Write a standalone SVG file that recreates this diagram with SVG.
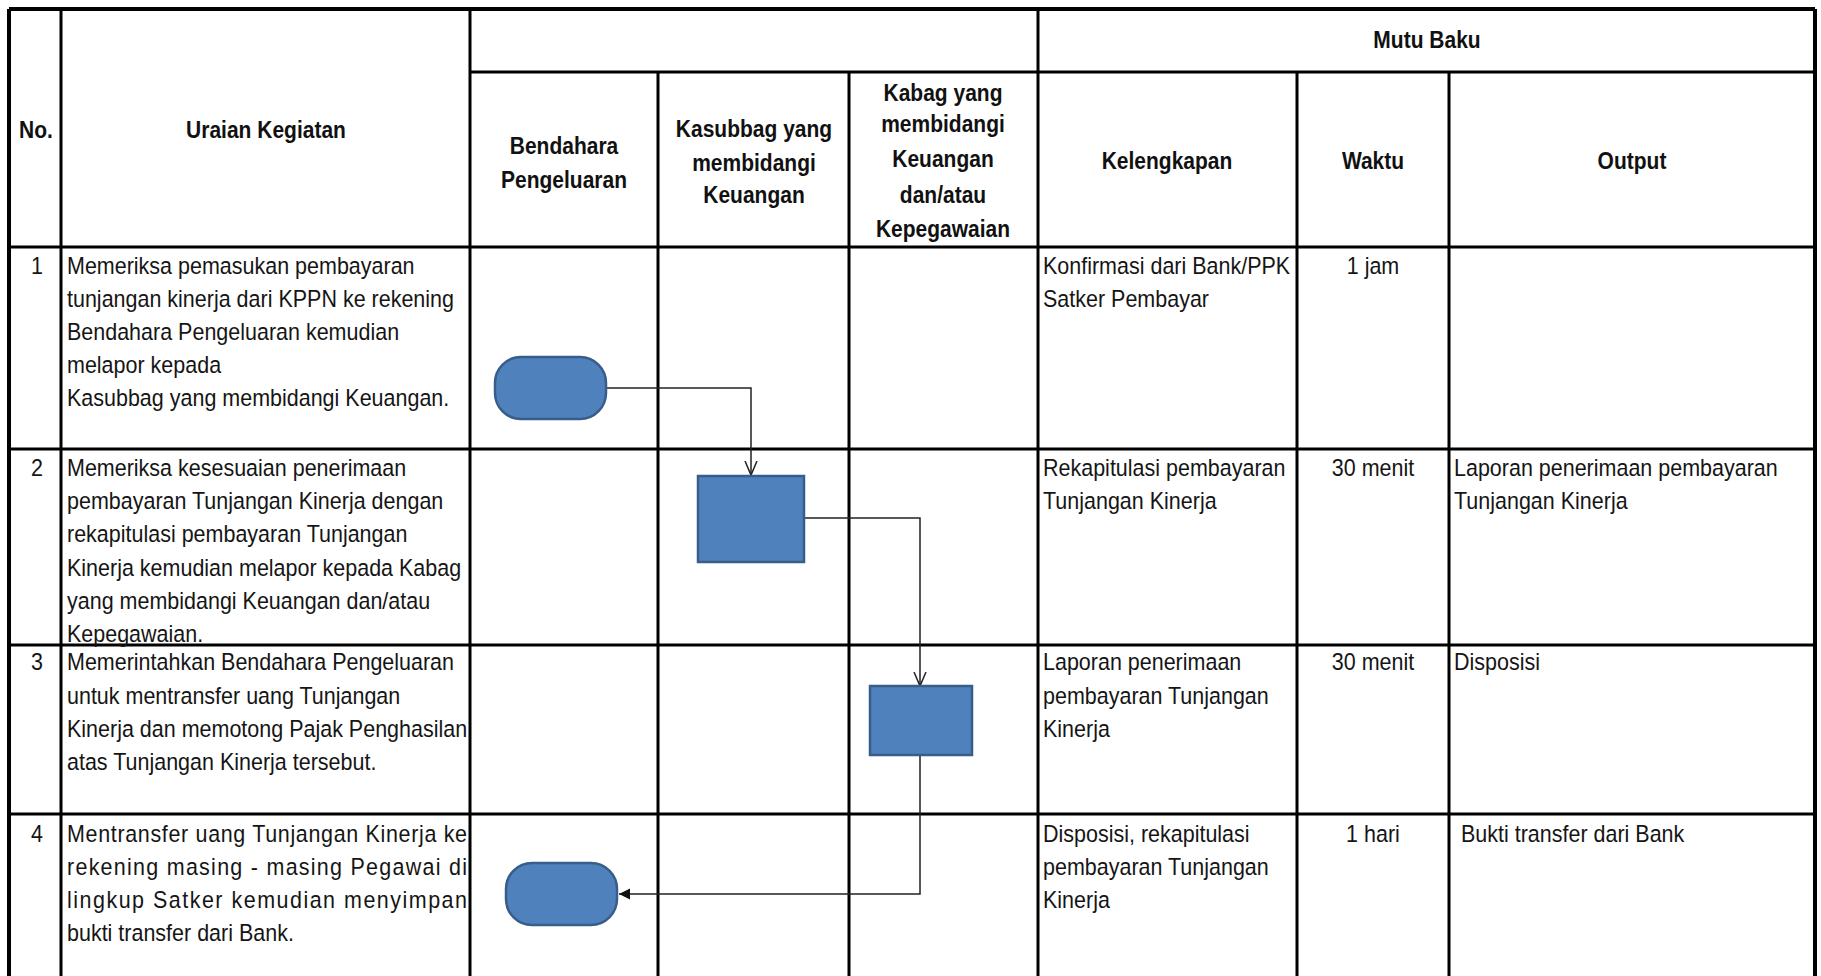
<svg xmlns="http://www.w3.org/2000/svg" width="1821" height="976" viewBox="0 0 1821 976">
<style>
  .grid { stroke: #000; stroke-width: 3; fill: none; }
  .border { stroke: #000; stroke-width: 4; fill: none; }
  .t { font-family: "Liberation Sans", Arial, sans-serif; font-size: 21.5px; fill: #151515; }
  .h { font-family: "Liberation Sans", Arial, sans-serif; font-size: 21px; font-weight: bold; fill: #111; }
  .c { text-anchor: middle; }
  .shape { fill: #4F81BD; stroke: #385D8A; stroke-width: 2.5; }
  .conn { fill: none; stroke: #222; stroke-width: 1.5; }
</style>
<defs>
  <marker id="open" markerWidth="20" markerHeight="20" refX="14" refY="10" orient="auto" markerUnits="userSpaceOnUse">
    <path d="M0,4 L14,10 L0,16" fill="none" stroke="#222" stroke-width="1.5"/>
  </marker>
  <marker id="solid" markerWidth="20" markerHeight="20" refX="11" refY="10" orient="auto" markerUnits="userSpaceOnUse">
    <path d="M0,4.5 L11,10 L0,15.5 Z" fill="#111" stroke="none"/>
  </marker>
</defs>
<rect width="1821" height="976" fill="#fff"/>

<g id="table">
  <line class="border" x1="9" y1="9" x2="1815" y2="9"/>
  <line class="grid" x1="470" y1="72" x2="1815" y2="72"/>
  <line class="grid" x1="9" y1="247" x2="1815" y2="247"/>
  <line class="grid" x1="9" y1="449" x2="1815" y2="449"/>
  <line class="grid" x1="9" y1="645" x2="1815" y2="645"/>
  <line class="grid" x1="9" y1="814" x2="1815" y2="814"/>
  <line class="border" x1="9" y1="9" x2="9" y2="976"/>
  <line class="grid" x1="61" y1="9" x2="61" y2="976"/>
  <line class="grid" x1="470" y1="9" x2="470" y2="976"/>
  <line class="grid" x1="658" y1="72" x2="658" y2="976"/>
  <line class="grid" x1="849" y1="72" x2="849" y2="976"/>
  <line class="grid" x1="1038" y1="9" x2="1038" y2="976"/>
  <line class="grid" x1="1297" y1="72" x2="1297" y2="976"/>
  <line class="grid" x1="1449" y1="72" x2="1449" y2="976"/>
  <line class="border" x1="1815" y1="9" x2="1815" y2="976"/>
</g>

<g transform="scale(1,1.12)">
<g id="header">
  <text class="h c" x="36" y="123.2">No.</text>
  <text class="h c" x="266" y="123.2">Uraian Kegiatan</text>
  <text class="h c" x="1427" y="42.9">Mutu Baku</text>
  <text class="h c" x="564"><tspan x="564" y="137.5">Bendahara</tspan><tspan x="564" y="167.9">Pengeluaran</tspan></text>
  <text class="h c" x="754"><tspan x="754" y="122.3">Kasubbag yang</tspan><tspan x="754" y="152.7">membidangi</tspan><tspan x="754" y="181.25">Keuangan</tspan></text>
  <text class="h c" x="943"><tspan x="943" y="90.2">Kabag yang</tspan><tspan x="943" y="117.9">membidangi</tspan><tspan x="943" y="149.1">Keuangan</tspan><tspan x="943" y="181.25">dan/atau</tspan><tspan x="943" y="211.6">Kepegawaian</tspan></text>
  <text class="h c" x="1167" y="150.9">Kelengkapan</text>
  <text class="h c" x="1373" y="150.9">Waktu</text>
  <text class="h c" x="1632" y="150.9">Output</text>
</g>

<g id="row1">
  <text class="t c" x="37" y="244.6">1</text>
  <text class="t" x="67"><tspan x="67" y="244.6">Memeriksa pemasukan pembayaran</tspan><tspan x="67" y="274.1">tunjangan kinerja dari KPPN ke rekening</tspan><tspan x="67" y="303.6">Bendahara Pengeluaran kemudian</tspan><tspan x="67" y="333">melapor kepada</tspan><tspan x="67" y="362.5">Kasubbag yang membidangi Keuangan.</tspan></text>
  <text class="t" x="1043"><tspan x="1043" y="244.6">Konfirmasi dari Bank/PPK</tspan><tspan x="1043" y="274.1">Satker Pembayar</tspan></text>
  <text class="t c" x="1373" y="244.6">1 jam</text>
</g>

<g id="row2">
  <text class="t c" x="37" y="425">2</text>
  <text class="t" x="67"><tspan x="67" y="425">Memeriksa kesesuaian penerimaan</tspan><tspan x="67" y="454.5">pembayaran Tunjangan Kinerja dengan</tspan><tspan x="67" y="483.9">rekapitulasi pembayaran Tunjangan</tspan><tspan x="67" y="514.3">Kinerja kemudian melapor kepada Kabag</tspan><tspan x="67" y="543.75">yang membidangi Keuangan dan/atau</tspan><tspan x="67" y="573.2">Kepegawaian.</tspan></text>
  <text class="t" x="1043"><tspan x="1043" y="425">Rekapitulasi pembayaran</tspan><tspan x="1043" y="454.5">Tunjangan Kinerja</tspan></text>
  <text class="t c" x="1373" y="425">30 menit</text>
  <text class="t" x="1454"><tspan x="1454" y="425">Laporan penerimaan pembayaran</tspan><tspan x="1454" y="454.5">Tunjangan Kinerja</tspan></text>
</g>

<g id="row3">
  <text class="t c" x="37" y="598.2">3</text>
  <text class="t" x="67"><tspan x="67" y="598.2">Memerintahkan Bendahara Pengeluaran</tspan><tspan x="67" y="628.6">untuk mentransfer uang Tunjangan</tspan><tspan x="67" y="658">Kinerja dan memotong Pajak Penghasilan</tspan><tspan x="67" y="687.5">atas Tunjangan Kinerja tersebut.</tspan></text>
  <text class="t" x="1043"><tspan x="1043" y="598.2">Laporan penerimaan</tspan><tspan x="1043" y="628.6">pembayaran Tunjangan</tspan><tspan x="1043" y="658">Kinerja</tspan></text>
  <text class="t c" x="1373" y="598.2">30 menit</text>
  <text class="t" x="1454" y="598.2">Disposisi</text>
</g>

<g id="row4">
  <text class="t c" x="37" y="751.8">4</text>
  <text class="t" x="67" y="751.8" textLength="400" lengthAdjust="spacing">Mentransfer uang Tunjangan Kinerja ke</text>
  <text class="t" x="67" y="781.25" textLength="400" lengthAdjust="spacing">rekening masing - masing Pegawai di</text>
  <text class="t" x="67" y="810.7" textLength="400" lengthAdjust="spacing">lingkup Satker kemudian menyimpan</text>
  <text class="t" x="67" y="840.2">bukti transfer dari Bank.</text>
  <text class="t" x="1043"><tspan x="1043" y="751.8">Disposisi, rekapitulasi</tspan><tspan x="1043" y="781.25">pembayaran Tunjangan</tspan><tspan x="1043" y="810.7">Kinerja</tspan></text>
  <text class="t c" x="1373" y="751.8">1 hari</text>
  <text class="t" x="1461" y="751.8">Bukti transfer dari Bank</text>
</g>
</g>

<g id="connectors">
  <path class="conn" d="M606,388 H751 V475" marker-end="url(#open)"/>
  <path class="conn" d="M804,518 H920 V686" marker-end="url(#open)"/>
  <path class="conn" d="M920,755 V894 H619" marker-end="url(#solid)"/>
</g>

<g id="node-start">
  <rect class="shape" x="495" y="357" width="111" height="62" rx="26" ry="26"/>
</g>
<g id="node-kasubbag">
  <rect class="shape" x="698" y="476" width="106" height="86"/>
</g>
<g id="node-kabag">
  <rect class="shape" x="870" y="686" width="102" height="69"/>
</g>
<g id="node-end">
  <rect class="shape" x="506" y="863" width="111" height="62" rx="26" ry="26"/>
</g>
</svg>
